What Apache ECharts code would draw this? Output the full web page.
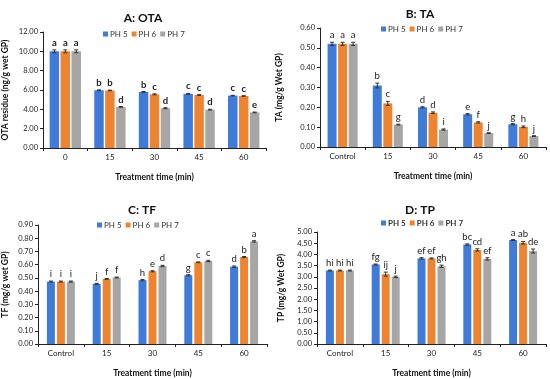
<!DOCTYPE html>
<html>
<head>
<meta charset="utf-8">
<script src="https://cdn.jsdelivr.net/npm/echarts@6/dist/echarts.min.js"></script>
<style>html,body{margin:0;padding:0;background:#fff}#c{width:550px;height:379px}</style>
</head>
<body>
<div id="c"></div>
<script>
// ---------- data ----------
const seriesNames = ['PH 5', 'PH 6', 'PH 7'];
const catsA = ['0', '15', '30', '45', '60'];
const catsBCD = ['Control', '15', '30', '45', '60'];

// A: OTA residue (ng/g wet GP)
const otaPH5 = [10.0, 5.97, 5.8, 5.6, 5.42];
const otaPH6 = [10.0, 5.95, 5.55, 5.48, 5.38];
const otaPH7 = [10.0, 4.25, 4.12, 3.97, 3.68];
const otaErr5 = [0.15, 0.04, 0.05, 0.05, 0.03];
const otaErr6 = [0.15, 0.04, 0.05, 0.04, 0.03];
const otaErr7 = [0.15, 0.04, 0.05, 0.04, 0.04];
const otaLet5 = ['a', 'b', 'b', 'c', 'c'];
const otaLet6 = ['a', 'b', 'c', 'c', 'c'];
const otaLet7 = ['a', 'd', 'd', 'd', 'e'];

// B: TA (mg/g Wet GP)
const taPH5 = [0.52, 0.31, 0.20, 0.165, 0.115];
const taPH6 = [0.52, 0.22, 0.173, 0.124, 0.102];
const taPH7 = [0.52, 0.113, 0.088, 0.07, 0.055];
const taErr5 = [0.008, 0.012, 0.003, 0.003, 0.003];
const taErr6 = [0.008, 0.01, 0.004, 0.003, 0.004];
const taErr7 = [0.008, 0.002, 0.003, 0.002, 0.002];
const taLet5 = ['a', 'b', 'd', 'e', 'g'];
const taLet6 = ['a', 'c', 'd', 'f', 'h'];
const taLet7 = ['a', 'g', 'i', 'j', 'j'];

// C: TF (mg/g wet GP)
const tfPH5 = [0.472, 0.455, 0.483, 0.52, 0.585];
const tfPH6 = [0.472, 0.492, 0.55, 0.618, 0.658];
const tfPH7 = [0.472, 0.503, 0.59, 0.628, 0.776];
const tfErr5 = [0.004, 0.004, 0.005, 0.004, 0.005];
const tfErr6 = [0.004, 0.003, 0.004, 0.003, 0.004];
const tfErr7 = [0.004, 0.003, 0.005, 0.005, 0.005];
const tfLet5 = ['i', 'j', 'h', 'g', 'd'];
const tfLet6 = ['i', 'f', 'e', 'c', 'b'];
const tfLet7 = ['i', 'f', 'd', 'c', 'a'];

// D: TP (mg/g Wet GP)
const tpPH5 = [3.28, 3.55, 3.82, 4.44, 4.64];
const tpPH6 = [3.28, 3.12, 3.82, 4.2, 4.52];
const tpPH7 = [3.28, 3.0, 3.47, 3.8, 4.15];
const tpErr5 = [0.02, 0.02, 0.03, 0.03, 0.02];
const tpErr6 = [0.02, 0.09, 0.02, 0.05, 0.06];
const tpErr7 = [0.02, 0.03, 0.05, 0.05, 0.09];
const tpLet5 = ['hi', 'fg', 'ef', 'bc', 'a'];
const tpLet6 = ['hi', 'ij', 'ef', 'cd', 'ab'];
const tpLet7 = ['hi', 'j', 'gh', 'ef', 'de'];

// ---------- layout ----------
const FONT = 'Lato, "Liberation Sans", sans-serif';
const colors = ['#3f7bd8', '#ef8430', '#a6a6a6'];

const panels = [
  { title: 'A: OTA', tx: 138, ty: 7, cats: catsA, vals: [otaPH5, otaPH6, otaPH7], errs: [otaErr5, otaErr6, otaErr7],
    lets: [otaLet5, otaLet6, otaLet7], yName: 'OTA residue (ng/g wet GP)', max: 12, interval: 2,
    grid: { left: 43, top: 32, width: 223, height: 116 }, nameGap: 33, legend: { left: 103, top: 30 },
    bw: 9.5, gap: 0.15, letBold: true, legBold: false },
  { title: 'B: TA', tx: 415, ty: 3, cats: catsBCD, vals: [taPH5, taPH6, taPH7], errs: [taErr5, taErr6, taErr7],
    lets: [taLet5, taLet6, taLet7], yName: 'TA (mg/g Wet GP)', max: 0.6, interval: 0.1,
    grid: { left: 320, top: 28, width: 226, height: 119 }, nameGap: 36, legend: { left: 381, top: 25 },
    bw: 9, gap: 0.17, letBold: false, legBold: false },
  { title: 'C: TF', tx: 137, ty: 199, cats: catsBCD, vals: [tfPH5, tfPH6, tfPH7], errs: [tfErr5, tfErr6, tfErr7],
    lets: [tfLet5, tfLet6, tfLet7], yName: 'TF (mg/g wet GP)', max: 0.9, interval: 0.1,
    grid: { left: 38, top: 225, width: 229, height: 121 }, nameGap: 28, legend: { left: 97, top: 221 },
    bw: 8, gap: 0.25, letBold: false, legBold: false },
  { title: 'D: TP', tx: 415, ty: 199, cats: catsBCD, vals: [tpPH5, tpPH6, tpPH7], errs: [tpErr5, tpErr6, tpErr7],
    lets: [tpLet5, tpLet6, tpLet7], yName: 'TP (mg/g Wet GP)', max: 5, interval: 0.5,
    grid: { left: 317, top: 232, width: 229, height: 115 }, nameGap: 31, legend: { left: 381, top: 219 },
    bw: 8, gap: 0.25, letBold: false, legBold: true }
];

const option = {
  animation: false,
  backgroundColor: '#fff',
  textStyle: { fontFamily: FONT },
  color: colors,
  title: [], legend: [], grid: [], xAxis: [], yAxis: [], series: []
};

panels.forEach((p, pi) => {
  option.title.push({ text: p.title, left: p.tx, top: p.ty, textAlign: 'center',
    textStyle: { fontFamily: FONT, fontSize: 12, fontWeight: 'bold', color: '#111' } });
  option.legend.push({ data: seriesNames, left: p.legend.left, top: p.legend.top, icon: 'rect',
    itemWidth: 5, itemHeight: 5, itemGap: 4, padding: 0,
    textStyle: { fontFamily: FONT, fontSize: 8, color: '#333', fontWeight: p.legBold ? 'bold' : 'normal', padding: [0, 0, 0, -3] } });
  option.grid.push(Object.assign({ containLabel: false }, p.grid));
  option.xAxis.push({ type: 'category', gridIndex: pi, data: p.cats,
    name: 'Treatment time (min)', nameLocation: 'middle', nameGap: 25,
    nameTextStyle: { fontFamily: FONT, fontSize: 8.5, fontWeight: 'bold', color: '#111' },
    axisLine: { lineStyle: { color: '#222', width: 1 } },
    axisTick: { show: true, length: 3, lineStyle: { color: '#222' } },
    axisLabel: { fontFamily: FONT, fontSize: 8, color: '#222', margin: 5 } });
  option.yAxis.push({ type: 'value', gridIndex: pi, min: 0, max: p.max, interval: p.interval,
    name: p.yName, nameLocation: 'middle', nameGap: p.nameGap,
    nameTextStyle: { fontFamily: FONT, fontSize: 8.5, fontWeight: 'bold', color: '#111' },
    splitLine: { show: false },
    axisLine: { show: true, lineStyle: { color: '#222', width: 1 } },
    axisTick: { show: true, length: 3, lineStyle: { color: '#222' } },
    axisLabel: { fontFamily: FONT, fontSize: 7.5, color: '#222', margin: 5,
      formatter: v => v.toFixed(2) } });

  seriesNames.forEach((name, si) => {
    option.series.push({ type: 'bar', name, xAxisIndex: pi, yAxisIndex: pi,
      data: p.vals[si], barWidth: p.bw, barGap: (p.gap * 100) + '%',
      itemStyle: { color: colors[si] } });
  });
  seriesNames.forEach((name, si) => {
    const data = p.vals[si].map((v, i) => [i, v, p.errs[si][i], p.lets[si][i]]);
    const step = p.bw * (1 + p.gap);
    option.series.push({ type: 'custom', xAxisIndex: pi, yAxisIndex: pi, z: 5, silent: true,
      data, encode: { x: 0, y: 1 },
      renderItem: (params, api) => {
        const ci = api.value(0), v = api.value(1), e = api.value(2);
        const letter = data[params.dataIndex][3];
        const off = (si - 1) * step;
        const top = api.coord([ci, v + e]);
        const bot = api.coord([ci, v - e]);
        const x = top[0] + off;
        const cw = 2;
        return { type: 'group', children: [
          { type: 'line', shape: { x1: x, y1: top[1], x2: x, y2: bot[1] }, style: { stroke: '#333', lineWidth: 1 } },
          { type: 'line', shape: { x1: x - cw, y1: top[1], x2: x + cw, y2: top[1] }, style: { stroke: '#333', lineWidth: 1 } },
          { type: 'line', shape: { x1: x - cw, y1: bot[1], x2: x + cw, y2: bot[1] }, style: { stroke: '#333', lineWidth: 1 } },
          { type: 'text', x: x, y: top[1] - 2, style: { text: letter, fill: '#222', align: 'center', verticalAlign: 'bottom',
            font: (p.letBold ? 'bold ' : '') + '9.5px ' + FONT } }
        ] };
      } });
  });
});

const chart = echarts.init(document.getElementById('c'), null, { renderer: 'canvas' });
chart.setOption(option);
</script>
</body>
</html>
